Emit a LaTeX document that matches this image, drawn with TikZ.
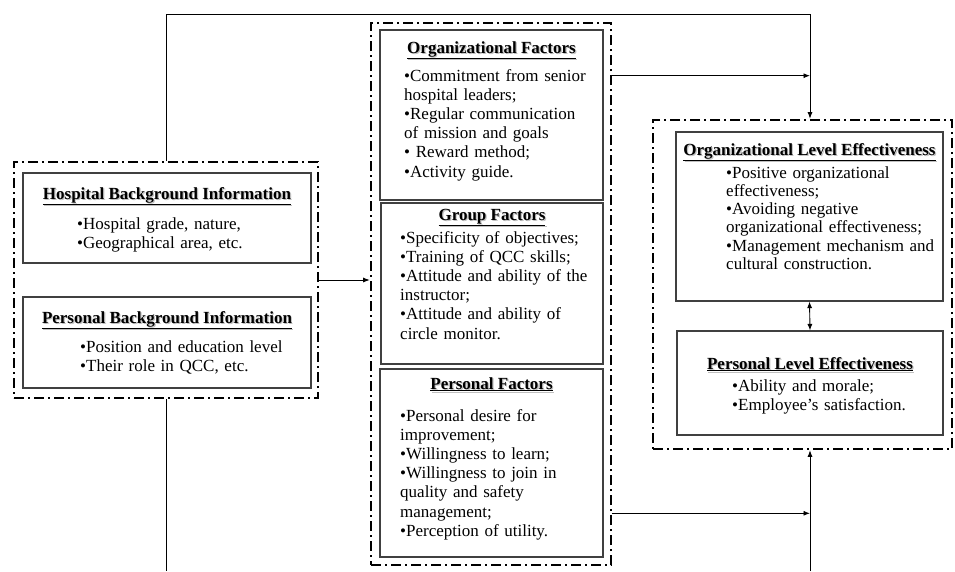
\documentclass[tikz,border=0pt]{standalone}
\usepackage{fontspec}
\setmainfont{Liberation Serif}
\usetikzlibrary{arrows.meta, calc, positioning}

\newcommand{\boxtitle}[1]{\rlap{\kern1.2pt\raisebox{-1.2pt}{\color{black!25}\underline{\textbf{#1}}}}\underline{\textbf{#1}}}

\tikzset{
    grp/.style={draw, rectangle, inner sep=0pt, line width=2.6pt, dash pattern=on 10pt off 4pt on 2pt off 4pt},
    infobox/.style={draw=black!75, rectangle, inner sep=0pt, line width=1.1pt},
    ttl/.style={anchor=base, inner sep=0pt, font=\fontsize{17}{19.2}\selectfont},
    lst/.style={anchor=base west, inner sep=0pt, text width=215pt, align=left, font=\fontsize{17}{19.2}\selectfont},
    conn/.style={line width=0.9pt, -{Latex[length=6.5pt,width=5pt]}},
    conn2/.style={line width=0.9pt, {Latex[length=6.5pt,width=5pt]}-{Latex[length=6.5pt,width=5pt]}}
}

\begin{document}
\begin{tikzpicture}[x=1pt, y=-1pt]
    \useasboundingbox (0,0) rectangle (955,571);

    % Groups
    \node[grp, minimum width=304pt, minimum height=236pt] (bgGrp) at (166,280) {};
    \node[grp, minimum width=240pt, minimum height=542pt] (facGrp) at (491,294) {};
    \node[grp, minimum width=299pt, minimum height=329pt] (effGrp) at (802.5,284.5) {};

    % Background information
    \node[infobox, minimum width=288pt, minimum height=90pt] (hospBg) at (167,218) {};
    \node[ttl] (hospTtl) at (167,199) {\boxtitle{Hospital Background Information}};
    \node[lst] (hospLst) at (77,229) {•Hospital grade, nature,\\•Geographical area, etc.};

    \node[infobox, minimum width=288pt, minimum height=91pt] (persBg) at (167,342.5) {};
    \node[ttl] (persBgTtl) at (167,323) {\boxtitle{Personal Background Information}};
    \node[lst] (persBgLst) at (80,352) {•Position and education level\\•Their role in QCC, etc.};

    % Factors
    \node[infobox, minimum width=223pt, minimum height=170pt] (orgF) at (491.5,115) {};
    \node[ttl] (orgFTtl) at (491.5,53) {\boxtitle{Organizational Factors}};
    \node[lst] (orgFLst) at (404,81) {•Commitment from senior\\hospital leaders;\\•Regular communication\\of mission and goals\\• Reward method;\\•Activity guide.};

    \node[infobox, minimum width=222pt, minimum height=161pt] (grpF) at (492,283.5) {};
    \node[ttl] (grpFTtl) at (492,220) {\boxtitle{Group Factors}};
    \node[lst] (grpFLst) at (400,243) {•Specificity of objectives;\\•Training of QCC skills;\\•Attitude and ability of the\\instructor;\\•Attitude and ability of\\circle monitor.};

    \node[infobox, minimum width=223pt, minimum height=188pt] (persF) at (491.5,463) {};
    \node[ttl] (persFTtl) at (491.5,389) {\boxtitle{Personal Factors}};
    \node[lst] (persFLst) at (400,421) {•Personal desire for\\improvement;\\•Willingness to learn;\\•Willingness to join in\\quality and safety\\management;\\•Perception of utility.};

    % Effectiveness
    \node[infobox, minimum width=267pt, minimum height=169pt] (orgEff) at (809.5,216.5) {};
    \node[ttl] (orgEffTtl) at (809.5,155) {\boxtitle{Organizational Level Effectiveness}};
    \node[lst, font=\fontsize{17}{18.3}\selectfont] (orgEffLst) at (726,178) {•Positive organizational\\effectiveness;\\•Avoiding negative\\organizational effectiveness;\\•Management mechanism and\\cultural construction.};

    \node[infobox, minimum width=266pt, minimum height=104pt] (persEff) at (810,383) {};
    \node[ttl] (persEffTtl) at (810,369) {\boxtitle{Personal Level Effectiveness}};
    \node[lst] (persEffLst) at (732,391) {•Ability and morale;\\•Employee’s satisfaction.};

    % Arrows
    \coordinate (topR) at (810,14);
    \coordinate (botL) at (166,571);
    \coordinate (botR) at (810,571);
    \draw[conn] (bgGrp.north) |- (topR) -- (topR |- effGrp.north);
    \draw[conn] (bgGrp.east) -- (bgGrp.east -| facGrp.west);
    \draw[conn] ($(facGrp.north east)+(0,54)$) coordinate (orgOut) -- (orgOut -| topR);
    \draw[conn] ($(facGrp.south east)+(0,-53)$) coordinate (persOut) -- (persOut -| topR);
    \draw[line width=0.9pt] (bgGrp.south) -- (botL);
    \draw[conn] (botR) -- (topR |- effGrp.south);
    \draw[conn2] (orgEff.south) -- (persEff.north);
\end{tikzpicture}
\end{document}
